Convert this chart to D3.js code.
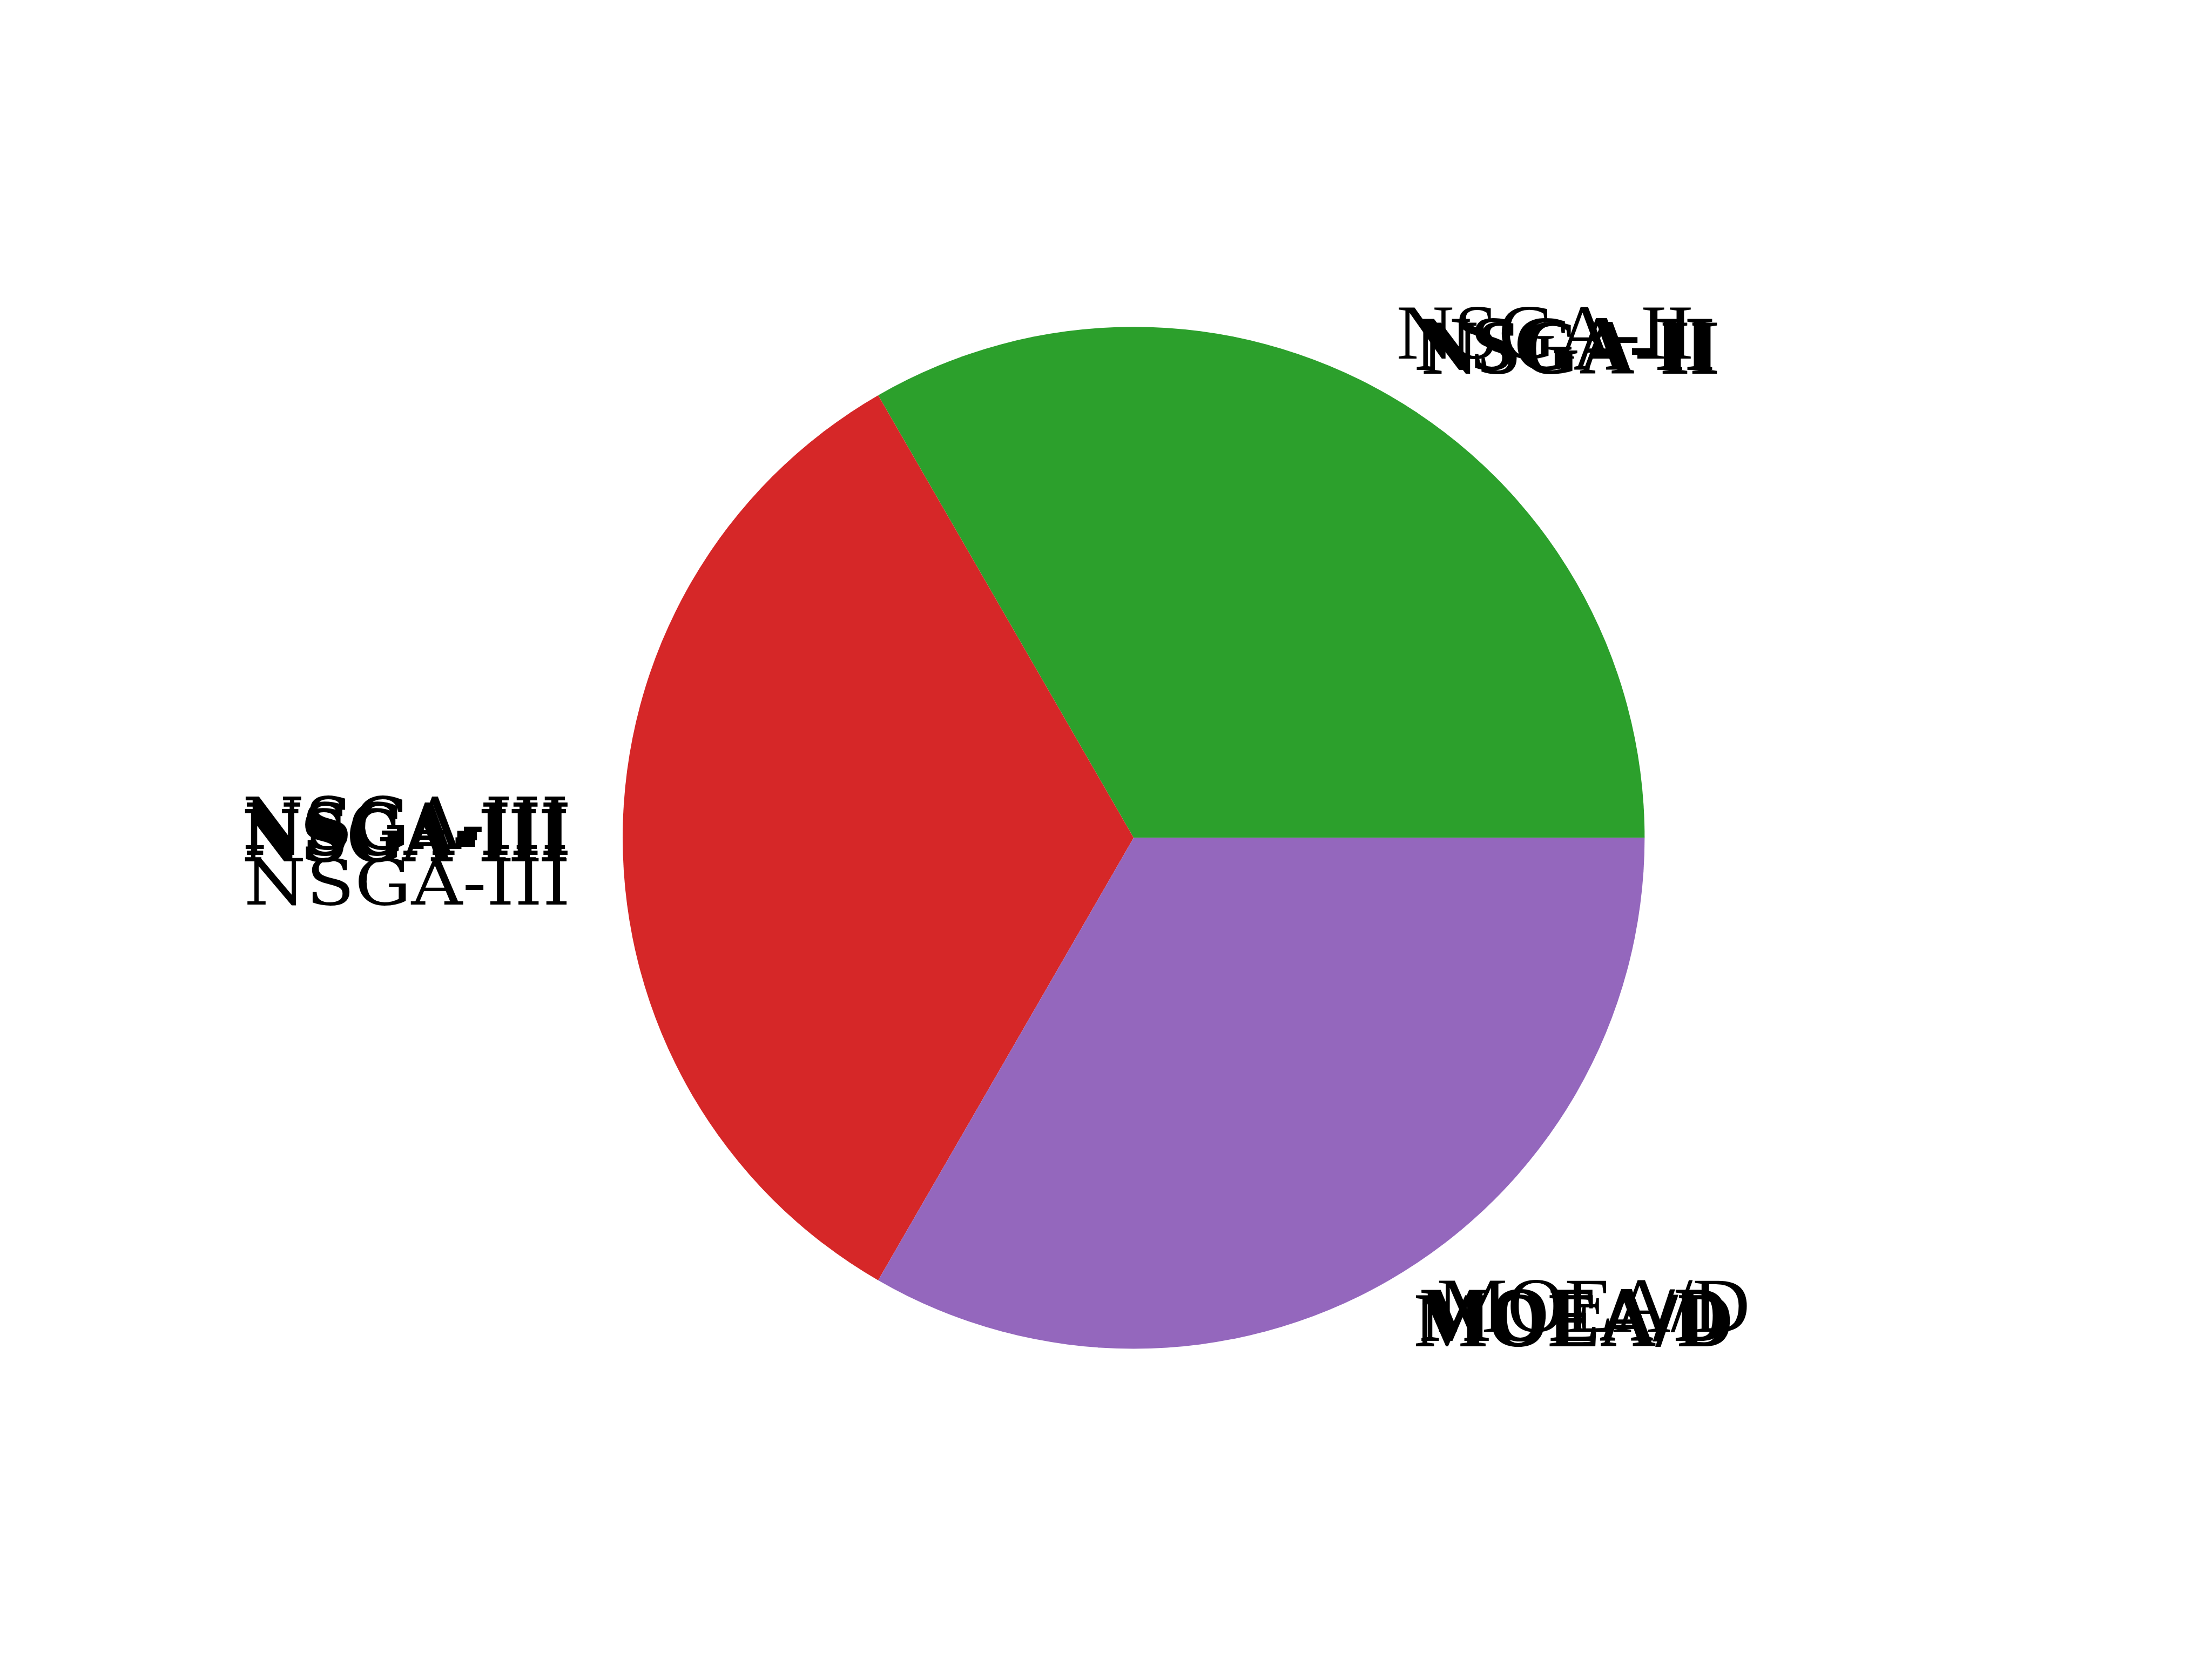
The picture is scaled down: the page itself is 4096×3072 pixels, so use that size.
<!DOCTYPE html>
<html>
<head>
<meta charset="utf-8">
<script src="https://cdn.jsdelivr.net/npm/d3@7"></script>
<style>
  html, body { margin: 0; padding: 0; background: #ffffff; }
  svg { display: block; }
</style>
</head>
<body>
<script>
// ---- data ----
const categories = ["NSGA-II", "NSGA-III", "MOEA/D"];
const shares = [1, 1, 1];
const sliceColors = ["#2ca02c", "#d62728", "#9467bd"];

// ---- layout (reference pixels, scaled by 0.64) ----
const REF_W = 6400, REF_H = 4800, S = 0.64;
const cx = 3280, cy = 2424, R = 1478.4, LABEL_DIST = 1.1;

const svg = d3.select("body").append("svg")
  .attr("width", REF_W * S).attr("height", REF_H * S);
svg.append("rect").attr("width", REF_W * S).attr("height", REF_H * S).attr("fill", "#fff");

const root = svg.append("g").attr("transform", `scale(${S})`);
const g = root.append("g").attr("transform", `translate(${cx},${cy})`);

// matplotlib-like: first wedge starts at 3 o'clock, counterclockwise
const pie = d3.pie().sort(null)
  .startAngle(Math.PI / 2)
  .endAngle(Math.PI / 2 - 2 * Math.PI);
const arcs = pie(shares);

const arc = d3.arc().innerRadius(0).outerRadius(R);
const labelArc = d3.arc().innerRadius(R * LABEL_DIST).outerRadius(R * LABEL_DIST);

g.selectAll("path.slice").data(arcs).enter().append("path")
  .attr("class", "slice")
  .attr("d", arc)
  .attr("fill", (d, i) => sliceColors[i]);

// overlapping label layers (offsets from the pie label anchor)
const timesF = "'Liberation Serif', 'Times New Roman', serif";
const dejaF = "'DejaVu Serif', serif";
const layerStyles = [
  // NSGA-II
  [
    { dx: -53, dy: 22, len: 860, w: "normal", fs: 226, f: timesF },
    { dx: 2, dy: 54, len: 866, w: "bold", fs: 226, f: timesF },
    { dx: 22, dy: 66, len: 860, w: "bold", fs: 226, f: timesF }
  ],
  // NSGA-III
  [
    { dx: -3, dy: 193, len: 945, w: "normal", fs: 184, f: dejaF },
    { dx: -8, dy: 33, len: 945, w: "normal", fs: 208, f: dejaF },
    { dx: -3, dy: 49, len: 945, w: "bold", fs: 208, f: dejaF },
    { dx: -8, dy: 68, len: 945, w: "bold", fs: 208, f: dejaF }
  ],
  // MOEA/D
  [
    { dx: 64, dy: 21, len: 906, w: "normal", fs: 226, f: timesF },
    { dx: 16, dy: 48, len: 892, w: "bold", fs: 226, f: timesF },
    { dx: 0, dy: 63, len: 923, w: "bold", fs: 226, f: timesF }
  ]
];

arcs.forEach((d, i) => {
  const [lx, ly] = labelArc.centroid(d);
  const anchor = lx > 0 ? "start" : "end";
  layerStyles[i].forEach(st => {
    g.append("text")
      .attr("x", lx + st.dx)
      .attr("y", ly + st.dy)
      .attr("text-anchor", anchor)
      .attr("font-family", st.f)
      .attr("font-size", st.fs)
      .attr("font-weight", st.w)
      .attr("textLength", st.len)
      .attr("lengthAdjust", "spacingAndGlyphs")
      .attr("fill", "#000")
      .text(categories[i]);
  });
});
</script>
</body>
</html>
